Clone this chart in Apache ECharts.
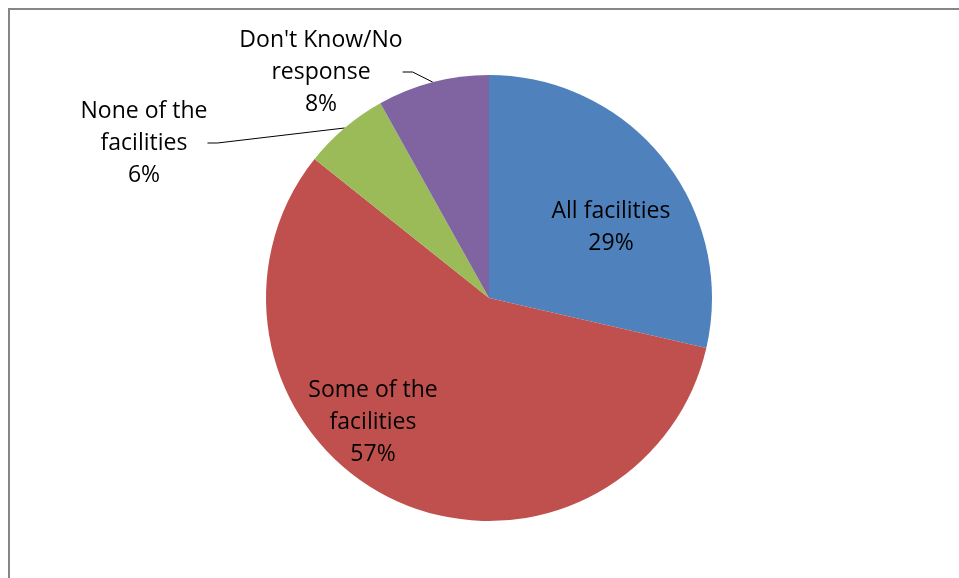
<!DOCTYPE html>
<html>
<head>
<meta charset="utf-8">
<script src="https://cdn.jsdelivr.net/npm/echarts@6/dist/echarts.min.js"></script>
<style>
  html, body { margin: 0; padding: 0; background: #fff; }
  #chart { width: 959px; height: 578px; }
</style>
</head>
<body>
<div id="chart"></div>
<script>
const categories = ['All facilities', 'Some of the facilities', 'None of the facilities', "Don't Know/No response"];
const labelTexts = ['All facilities', 'Some of the\nfacilities', 'None of the\nfacilities', "Don't Know/No\nresponse"];
// slice sizes; labels show rounded percentages
const values = [28.6, 57.1, 6.2, 8.1];
const colors = ['#4f81bd', '#c0504d', '#9bbb59', '#8064a2'];

// label anchor points (px), Excel-style placement
const labelPos = [
  { x: 611, y: 227 },
  { x: 373, y: 422 },
  { x: 144, y: 143 },
  { x: 321, y: 72 },
];

const chart = echarts.init(document.getElementById('chart'));
chart.setOption({
  backgroundColor: '#fff',
  animation: false,
  graphic: [
    {
      type: 'rect',
      shape: { x: 9, y: 9, width: 1000, height: 1000 },
      style: { fill: 'none', stroke: '#868686', lineWidth: 2 },
    },
  ],
  series: [
    {
      type: 'pie',
      center: [489, 298],
      radius: 223,
      startAngle: 90,
      clockwise: true,
      itemStyle: { borderWidth: 0 },
      label: {
        show: true,
        position: 'outside',
        color: '#000',
        fontFamily: 'Open Sans',
        fontSize: 23,
        lineHeight: 32,
        align: 'center',
        formatter: (p) => labelTexts[p.dataIndex] + '\n' + Math.round(p.percent) + '%',
      },
      labelLine: {
        show: true,
        length: 10,
        length2: 10,
        lineStyle: { color: '#000', width: 1 },
      },
      labelLayout: (p) => ({
        x: labelPos[p.dataIndex].x,
        y: labelPos[p.dataIndex].y,
        align: 'center',
        verticalAlign: 'middle',
      }),
      data: categories.map((name, i) => ({
        name,
        value: values[i],
        itemStyle: { color: colors[i] },
        labelLine: { show: i >= 2 },
      })),
    },
  ],
});

window.addEventListener('resize', () => chart.resize());
</script>
</body>
</html>
